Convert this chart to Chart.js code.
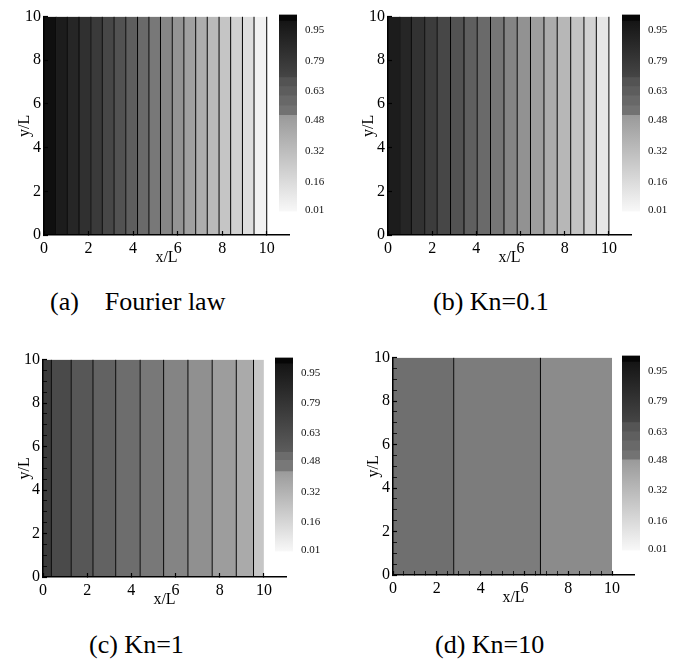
<!DOCTYPE html>
<html>
<head>
<meta charset="utf-8">
<script src="https://cdn.jsdelivr.net/npm/chart.js@4.4.1/dist/chart.umd.min.js"></script>
<style>
  body { margin: 0; background: #fff; }
  #wrap { position: relative; width: 698px; height: 664px; background: #fff; overflow: hidden; }
  canvas { position: absolute; }
  .cap { position: absolute; font-family: 'Liberation Serif', 'Times New Roman', serif; font-size: 26px; line-height: 30px; color: #000; white-space: pre; }
</style>
</head>
<body>
<div id="wrap">
  <canvas id="plotA" width="298" height="269" style="left:0px;top:0px"></canvas>
  <canvas id="barA" width="58" height="226" style="left:279px;top:0px"></canvas>
  <canvas id="plotB" width="296" height="269" style="left:344px;top:0px"></canvas>
  <canvas id="barB" width="58" height="226" style="left:622px;top:0px"></canvas>
  <canvas id="plotC" width="295" height="268" style="left:0px;top:343px"></canvas>
  <canvas id="barC" width="58" height="223" style="left:275px;top:343px"></canvas>
  <canvas id="plotD" width="294" height="268" style="left:349px;top:341px"></canvas>
  <canvas id="barD" width="58" height="224" style="left:622px;top:341px"></canvas>
  <div class="cap" style="left:50px;top:287px">(a)    Fourier law</div>
  <div class="cap" style="left:433px;top:287px">(b) Kn=0.1</div>
  <div class="cap" style="left:89px;top:630px">(c) Kn=1</div>
  <div class="cap" style="left:435px;top:630px">(d) Kn=10</div>
</div>
<script>
const serif = "'Liberation Serif', 'Times New Roman', serif";

// ticks
const xTicks = [0, 2, 4, 6, 8, 10];
const yTicks = [0, 2, 4, 6, 8, 10];
const minorTicks = [0.5, 1, 1.5, 2.5, 3, 3.5, 4.5, 5, 5.5, 6.5, 7, 7.5, 8.5, 9, 9.5];
const cbarTicks = [0.01, 0.16, 0.32, 0.48, 0.63, 0.79, 0.95];

// (a) Fourier law : band edges (x/L), band gray and contour lines
const edgesA = [0, 0.55, 1.05, 1.57, 2.10, 2.62, 3.15, 3.67, 4.20, 4.71, 5.23, 5.76, 6.28, 6.81, 7.33, 7.86, 8.38, 8.91, 9.43, 10];
const graysA = ['#0f0f0f', '#1c1c1c', '#262626', '#303030', '#3a3a3a', '#474747', '#525252', '#5e5e5e', '#6a6a6a', '#787878',
                '#868686', '#939393', '#a0a0a0', '#adadad', '#b9b9b9', '#c5c5c5', '#d1d1d1', '#dedede', '#f2f2f2'];
const linesA = [0.55, 1.05, 1.57, 2.10, 2.62, 3.15, 3.67, 4.20, 4.71, 5.23, 5.76, 6.28, 6.81, 7.33, 7.86, 8.38, 8.91, 9.43, 10];

// (b) Kn=0.1
const edgesB = [0, 0.53, 1.06, 1.66, 2.23, 2.83, 3.44, 4.04, 4.64, 5.25, 5.85, 6.45, 7.06, 7.66, 8.27, 8.87, 9.43, 10];
const graysB = ['#1c1c1c', '#262626', '#323232', '#3c3c3c', '#474747', '#535353', '#5f5f5f', '#6a6a6a', '#767676',
                '#848484', '#929292', '#9e9e9e', '#ababab', '#b7b7b7', '#c4c4c4', '#d2d2d2', '#e6e6e6'];
const linesB = [0.53, 1.06, 1.66, 2.23, 2.83, 3.44, 4.04, 4.64, 5.25, 5.85, 6.45, 7.06, 7.66, 8.27, 8.87, 9.43, 10];

// (c) Kn=1
const edgesC = [0, 0.38, 1.28, 2.26, 3.29, 4.40, 5.46, 6.56, 7.66, 8.75, 9.53, 10];
const graysC = ['#3b3b3b', '#4a4a4a', '#575757', '#626262', '#6d6d6d', '#787878', '#848484', '#909090', '#9d9d9d', '#aaaaaa', '#c6c6c6'];
const linesC = [0.38, 1.28, 2.26, 3.29, 4.40, 5.46, 6.56, 7.66, 8.75, 9.53];

// (d) Kn=10
const edgesD = [0, 2.77, 6.73, 10];
const graysD = ['#6f6f6f', '#7c7c7c', '#8b8b8b'];
const linesD = [2.77, 6.73];

// colour bars: [low, high, gray at top, gray at bottom]
const cbarA = [
  [1.00, 1.03, '#060606', '#060606'],
  [0.706, 1.00, '#141414', '#454545'],
  [0.658, 0.706, '#535353', '#535353'],
  [0.61, 0.658, '#5d5d5d', '#5d5d5d'],
  [0.558, 0.61, '#686868', '#686868'],
  [0.509, 0.558, '#727272', '#727272'],
  [0.005, 0.509, '#999999', '#f8f8f8'],
];
const cbarB = [
  [1.00, 1.03, '#060606', '#060606'],
  [0.706, 1.00, '#141414', '#454545'],
  [0.658, 0.706, '#535353', '#535353'],
  [0.61, 0.658, '#5d5d5d', '#5d5d5d'],
  [0.558, 0.61, '#686868', '#686868'],
  [0.509, 0.558, '#727272', '#727272'],
  [0.005, 0.509, '#999999', '#f8f8f8'],
];
const cbarC = [
  [1.00, 1.03, '#060606', '#060606'],
  [0.533, 1.00, '#141414', '#5c5c5c'],
  [0.49, 0.533, '#6c6c6c', '#6c6c6c'],
  [0.43, 0.49, '#787878', '#787878'],
  [0.005, 0.43, '#9a9a9a', '#f8f8f8'],
];
const cbarD = [
  [1.00, 1.03, '#060606', '#060606'],
  [0.681, 1.00, '#141414', '#454545'],
  [0.633, 0.681, '#555555', '#555555'],
  [0.585, 0.633, '#5f5f5f', '#5f5f5f'],
  [0.533, 0.585, '#696969', '#696969'],
  [0.485, 0.533, '#737373', '#737373'],
  [0.005, 0.485, '#999999', '#f8f8f8'],
];

// Contour panel: filled bands from y=0 to y=10 plus black contour lines
function crearPanel(id, edges, grays, lines, yAxisWidth, minorX, minorY) {
  const datasets = [];
  lines.forEach(x => {
    datasets.push({
      data: [{x: x, y: 0}, {x: x, y: 10}],
      borderColor: '#000', borderWidth: 1, pointRadius: 0, fill: false, order: 0,
    });
  });
  grays.forEach((g, i) => {
    datasets.push({
      data: [{x: edges[i], y: 10}, {x: edges[i + 1], y: 10}],
      borderColor: g, borderWidth: 0, backgroundColor: g, pointRadius: 0, fill: 'origin', order: 1,
    });
  });

  // major ticks get a label, minor ticks only a short mark
  const tickList = (major, withMinor) => (withMinor ? major.concat(minorTicks) : major).sort((a, b) => a - b);
  const label = (major) => (v) => major.includes(v) ? String(v) : '';

  new Chart(document.getElementById(id), {
    type: 'line',
    data: { datasets },
    options: {
      responsive: false,
      animation: false,
      layout: { padding: { top: 12, right: 9, left: 0, bottom: 0 } },
      plugins: { legend: { display: false }, tooltip: { enabled: false } },
      scales: {
        x: {
          type: 'linear', min: 0, max: 11,
          afterBuildTicks: s => { s.ticks = tickList(xTicks.slice(), minorX).map(v => ({ value: v })); },
          afterFit: s => { s.height = 34; },
          grid: { drawOnChartArea: false, tickLength: -4, color: '#000', z: 1,
                  tickWidth: c => (c.tick && xTicks.includes(c.tick.value)) ? 1.2 : 0.8 },
          border: { display: true, color: '#000', width: 1.5, z: 1 },
          ticks: { color: '#000', padding: 8, maxRotation: 0, autoSkip: false, callback: label(xTicks),
                   font: { family: serif, size: 16 } },
          title: { display: true, text: 'x/L', color: '#000', padding: { top: 0, bottom: 1.4 }, font: { family: serif, size: 16 } },
        },
        y: {
          type: 'linear', min: 0, max: 10,
          afterBuildTicks: s => { s.ticks = tickList(yTicks.slice(), minorY).map(v => ({ value: v })); },
          afterFit: s => { s.width = yAxisWidth; },
          grid: { drawOnChartArea: false, tickLength: -4, color: '#000', z: 1,
                  tickWidth: c => (c.tick && yTicks.includes(c.tick.value)) ? 1.2 : 0.8 },
          border: { display: true, color: '#000', width: 1.5, z: 1 },
          ticks: { color: '#000', padding: 7, autoSkip: false, callback: label(yTicks), font: { family: serif, size: 16 } },
          title: { display: true, text: 'y/L', color: '#000', padding: { top: 15.4, bottom: 0 }, font: { family: serif, size: 16 } },
        },
      },
    },
  });
}

// Colour bar: overlapping floating bars, each with its own vertical gradient
function crearBarra(id, segs) {
  const datasets = segs.map(s => ({
    data: [[s[0], s[1]]],
    grouped: false,
    barPercentage: 1,
    categoryPercentage: 1,
    borderWidth: 0,
    backgroundColor: (ctx) => {
      const chart = ctx.chart;
      if (!chart.chartArea) return s[3];
      const y = chart.scales.y;
      const g = chart.ctx.createLinearGradient(0, y.getPixelForValue(s[1]), 0, y.getPixelForValue(s[0]));
      g.addColorStop(0, s[2]);
      g.addColorStop(1, s[3]);
      return g;
    },
  }));

  new Chart(document.getElementById(id), {
    type: 'bar',
    data: { labels: [''], datasets },
    options: {
      responsive: false,
      animation: false,
      layout: { padding: { top: 12, right: 0, left: 0, bottom: 8 } },
      plugins: { legend: { display: false }, tooltip: { enabled: false } },
      scales: {
        x: { display: false },
        y: {
          position: 'right', min: 0.005, max: 1.03,
          afterBuildTicks: s => { s.ticks = cbarTicks.map(v => ({ value: v })); },
          afterFit: s => { s.width = 40; },
          grid: { display: false, drawTicks: false },
          border: { display: false },
          ticks: { color: '#111', padding: 8, font: { family: serif, size: 11 }, callback: v => v.toFixed(2) },
        },
      },
    },
  });
}

crearPanel('plotA', edgesA, graysA, linesA, 44, false, false);
crearPanel('plotB', edgesB, graysB, linesB, 44, false, false);
crearPanel('plotC', edgesC, graysC, linesC, 43, false, true);
crearPanel('plotD', edgesD, graysD, linesD, 44, true, true);

crearBarra('barA', cbarA);
crearBarra('barB', cbarB);
crearBarra('barC', cbarC);
crearBarra('barD', cbarD);
</script>
</body>
</html>
